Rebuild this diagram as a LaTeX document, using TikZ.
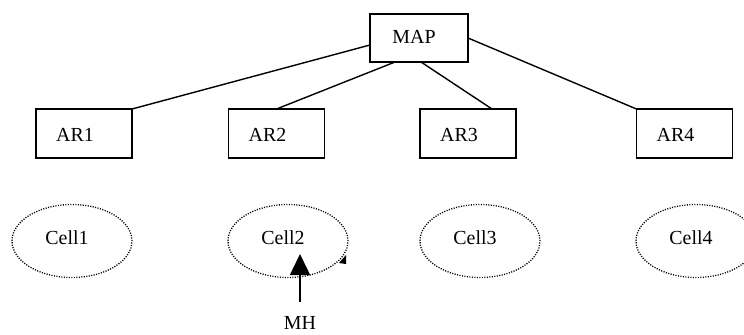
\documentclass[tikz,border=0pt]{standalone}
\usepackage{fontspec}
\setmainfont{Liberation Serif}
\usetikzlibrary{arrows.meta,shapes.geometric}
\begin{document}
\begin{tikzpicture}[x=1bp,y=-1bp,
  font=\fontsize{20}{24}\selectfont,
  every node/.style={inner sep=0pt, outer sep=0pt},
  boxnode/.style={draw, line width=1.4bp, minimum width=96bp, minimum height=49bp,
    label={[xshift=-9bp,yshift=-1bp]center:#1}},
  cellnode/.style={draw, ellipse, line width=1.3bp, dash pattern=on 1.1bp off 1.4bp,
    minimum width=120bp, minimum height=73bp,
    label={[xshift=-5bp,yshift=3bp]center:#1}},
  link/.style={line width=1.4bp}]
\useasboundingbox (0,0) rectangle (744,334);
\node[draw, line width=1.4bp, minimum width=98bp, minimum height=48bp,
  label={[xshift=-5bp,yshift=1bp]center:MAP}] (map) at (419,38) {};
\node[boxnode=AR1] (ar1) at (84,133.5) {};
\node[boxnode=AR2] (ar2) at (276.5,133.5) {};
\node[boxnode=AR3] (ar3) at (468,133.5) {};
\node[boxnode=AR4] (ar4) at (684.5,133.5) {};
\draw[link] ([yshift=-7bp]map.west) -- (ar1.north east);
\draw[link] ([xshift=-24bp]map.south) -- (ar2.north);
\draw[link] ([xshift=2bp]map.south) -- ([xshift=24bp]ar3.north);
\draw[link] (map.east) -- (ar4.north west);
\node[cellnode=Cell1] (c1) at (72,241) {};
\node[cellnode=Cell2] (c2) at (288,241) {};
\node[cellnode=Cell3] (c3) at (480,241) {};
\node[cellnode=Cell4] (c4) at (696,241) {};
\fill (346,255) -- (346,264) -- (339,263) -- cycle;
\node (mh) at (300,323) {MH};
\coordinate (mhtail) at (300,302);
\coordinate (mhtip) at (300,254);
\draw[line width=1.5bp, -{Triangle[length=21bp,width=20bp]}] (mhtail) -- (mhtip);
\end{tikzpicture}
\end{document}
